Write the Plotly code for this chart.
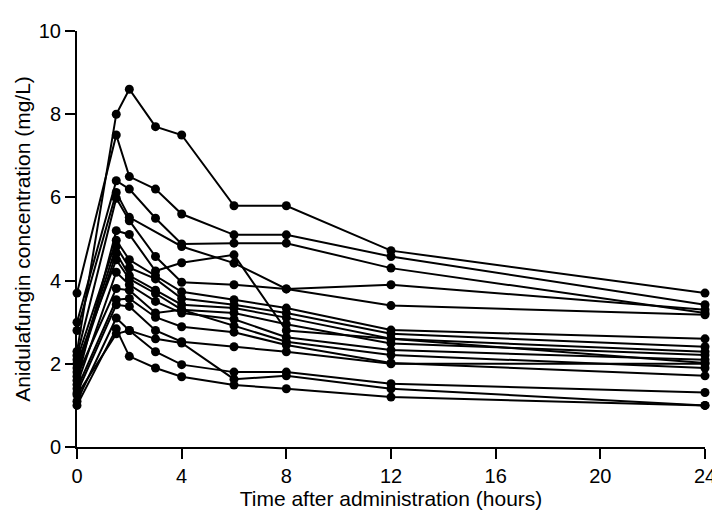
"""Spaghetti plot of individual anidulafungin concentration-time profiles."""

import plotly.graph_objects as go

# Sampling times (hours)
times = [0, 1.5, 2, 3, 4, 6, 8, 12, 24]

# Individual patient profiles (mg/L); None = sample not drawn
pt_a = [2.3, 8.0, 8.6, 7.7, 7.5, 5.8, 5.8, 4.72, 3.70]
pt_b = [3.7, 7.5, 6.5, 6.2, 5.6, 5.1, 5.1, 4.58, 3.42]
pt_c = [3.0, 6.4, 6.2, 5.5, 4.88, 4.9, 4.9, 4.3, 3.22]
pt_d = [2.8, 6.12, 5.52, None, 4.82, 4.42, 3.8, 3.9, 3.3]
pt_e = [2.2, 5.98, 5.44, 4.58, 3.96, 3.9, 3.8, 3.4, 3.18]
pt_f = [1.6, 5.2, 5.11, 4.23, 4.43, 4.62, 2.8, 2.6, 2.02]
pt_g = [2.1, 4.97, 4.5, 4.12, 3.73, 3.54, 3.34, 2.81, 2.6]
pt_h = [1.9, 4.82, 4.31, 4.04, 3.57, 3.42, 3.22, 2.72, 2.41]
pt_i = [1.8, 4.66, 4.12, 3.77, 3.42, 3.34, 3.11, 2.6, 2.29]
pt_j = [2.0, 4.5, 4.04, 3.69, 3.3, 3.22, 2.95, 2.49, 2.21]
pt_k = [1.5, 4.2, 3.9, 3.5, 3.22, 3.07, 2.64, 2.33, 2.1]
pt_l = [1.7, 3.81, 3.77, 3.22, 3.3, 2.91, 2.53, 2.21, 1.9]
pt_m = [1.4, 3.54, 3.57, 3.12, 2.89, 2.76, 2.45, 2.02, 1.71]
pt_n = [1.3, 3.42, 3.38, 2.8, 2.53, 2.41, 2.29, 2.0, 2.0]
pt_o = [1.1, 3.1, 2.8, 2.29, 1.98, 1.8, 1.8, 1.52, 1.31]
pt_p = [1.25, 2.72, 2.8, 2.6, 2.5, 1.63, 1.71, 1.40, 1.0]
pt_q = [1.0, 2.84, 2.18, 1.9, 1.69, 1.49, 1.40, 1.2, 1.0]

profiles = [pt_a, pt_b, pt_c, pt_d, pt_e, pt_f, pt_g, pt_h, pt_i,
            pt_j, pt_k, pt_l, pt_m, pt_n, pt_o, pt_p, pt_q]

FONT = "Liberation Sans, Arial, sans-serif"

fig = go.Figure()

for conc in profiles:
    fig.add_trace(
        go.Scatter(
            x=times,
            y=conc,
            mode="lines+markers",
            line=dict(color="black", width=2),
            marker=dict(color="black", size=9),
            connectgaps=True,
            cliponaxis=False,
            showlegend=False,
        )
    )

axis_common = dict(
    showline=True,
    linecolor="black",
    linewidth=2,
    ticks="outside",
    ticklen=10,
    tickwidth=2,
    tickcolor="black",
    showgrid=False,
    zeroline=False,
    ticklabeloverflow="allow",
    tickfont=dict(family=FONT, size=20, color="black"),
)

fig.update_layout(
    width=720,
    height=512,
    margin=dict(l=69, r=12, t=12, b=73),
    plot_bgcolor="white",
    paper_bgcolor="white",
    xaxis=dict(
        range=[0, 24],
        tickvals=[0, 4, 8, 12, 16, 20, 24],
        title=dict(text="Time after administration (hours)",
                   font=dict(family=FONT, size=21, color="black"), standoff=0),
        **axis_common,
    ),
    yaxis=dict(
        range=[0, 10],
        tickvals=[0, 2, 4, 6, 8, 10],
        title=dict(text="Anidulafungin concentration (mg/L)",
                   font=dict(family=FONT, size=21, color="black"), standoff=2),
        **axis_common,
    ),
)

fig.write_html("out.html")
